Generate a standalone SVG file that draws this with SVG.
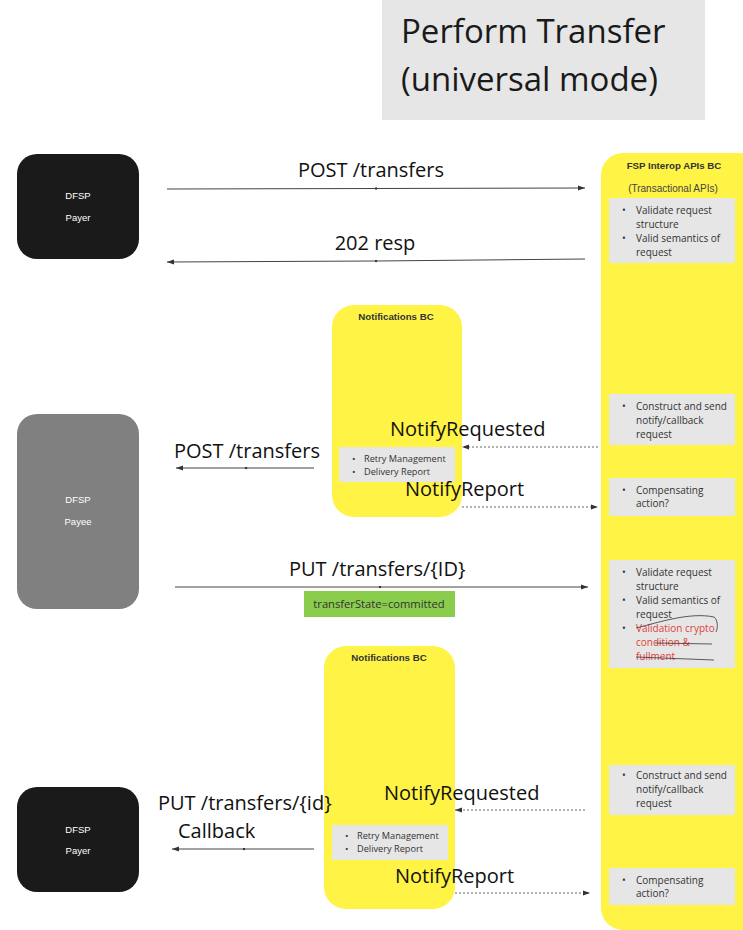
<svg xmlns="http://www.w3.org/2000/svg" width="743" height="930" viewBox="0 0 743 930">
<defs>
<marker id="ah" markerWidth="8" markerHeight="6" refX="7" refY="3" orient="auto" markerUnits="userSpaceOnUse"><path d="M0,0.5 L7,3 L0,5.5 Z" fill="#333"/></marker>
<marker id="md" markerWidth="3" markerHeight="3" refX="1.5" refY="1.5" markerUnits="userSpaceOnUse"><circle cx="1.5" cy="1.5" r="1.2" fill="#333"/></marker>
<style>
.lbl{font-family:"Open Sans","Noto Sans",sans-serif;font-size:20px;fill:#111}
.ttl{font-family:"Open Sans","Noto Sans",sans-serif;font-size:33px;fill:#1a1a1a}
.nt{font-family:"Liberation Sans",Arial,sans-serif;font-size:9.5px;fill:#fff;text-anchor:middle}
.bt{font-family:"Liberation Sans",Arial,sans-serif;font-size:9.7px;font-weight:bold;fill:#333;text-anchor:middle}
.st{font-family:"Liberation Sans",Arial,sans-serif;font-size:10px;fill:#444;text-anchor:middle}
.bl{font-family:"Open Sans","Noto Sans",sans-serif;font-size:10px;fill:#333}
.sm{font-family:"Open Sans","Noto Sans",sans-serif;font-size:9.2px;fill:#333}
.red{fill:#e0413a}
.yel{fill:#fff345}
.gr{fill:#e6e6e6}
.ln{stroke:#444;stroke-width:1;fill:none;marker-end:url(#ah);marker-mid:url(#md)}
.dl{stroke:#666;stroke-width:1;fill:none;stroke-dasharray:2,2;marker-end:url(#ah)}
</style>
</defs>
<rect width="743" height="930" fill="#fff"/>
<g id="title">
<rect x="382" y="0" width="323" height="120" class="gr"/>
<text x="401" y="43" class="ttl">Perform Transfer</text>
<text x="401" y="91" class="ttl">(universal mode)</text>
</g>
<g id="fsp">
<rect x="601" y="153" width="162" height="777" rx="22" class="yel"/>
<text x="674" y="169" class="bt">FSP Interop APIs BC</text>
<text x="673" y="192" class="st">(Transactional APIs)</text>
<rect x="609" y="198" width="126" height="65" class="gr"/>
<g class="bl">
<text x="622" y="214">•</text><text x="636" y="214">Validate request</text>
<text x="636" y="228">structure</text>
<text x="622" y="242">•</text><text x="636" y="242">Valid semantics of</text>
<text x="636" y="256">request</text>
</g>
<rect x="609" y="394" width="126" height="51" class="gr"/>
<g class="bl">
<text x="622" y="410">•</text><text x="636" y="410">Construct and send</text>
<text x="636" y="424">notify/callback</text>
<text x="636" y="438">request</text>
</g>
<rect x="609" y="478" width="126" height="38" class="gr"/>
<g class="bl">
<text x="622" y="494">•</text><text x="636" y="494">Compensating</text>
<text x="636" y="507">action?</text>
</g>
<rect x="609" y="560" width="126" height="108" class="gr"/>
<g class="bl">
<text x="622" y="576">•</text><text x="636" y="576">Validate request</text>
<text x="636" y="590">structure</text>
<text x="622" y="604">•</text><text x="636" y="604">Valid semantics of</text>
<text x="636" y="618">request</text>
<text x="622" y="632">•</text><text x="636" y="632" class="red">Validation crypto</text>
<text x="636" y="646" class="red">condition &amp;</text>
<text x="636" y="660" class="red">fullment</text>
</g>
<path d="M636,628 C660,622 690,612 714,617 C718,620 718,628 716,632" stroke="#333" stroke-width="0.8" fill="none"/>
<path d="M655,643 L712,644" stroke="#333" stroke-width="0.8" fill="none"/>
<path d="M636,657 L714,660" stroke="#333" stroke-width="0.8" fill="none"/>
<rect x="609" y="765" width="126" height="50" class="gr"/>
<g class="bl">
<text x="622" y="779">•</text><text x="636" y="779">Construct and send</text>
<text x="636" y="793">notify/callback</text>
<text x="636" y="807">request</text>
</g>
<rect x="609" y="868" width="126" height="37" class="gr"/>
<g class="bl">
<text x="622" y="884">•</text><text x="636" y="884">Compensating</text>
<text x="636" y="897">action?</text>
</g>
</g>
<g id="payer1">
<rect x="17" y="154" width="122" height="105" rx="20" fill="#1a1a1a"/>
<text x="78" y="199" class="nt">DFSP</text>
<text x="78" y="221" class="nt">Payer</text>
</g>
<g id="payee">
<rect x="17" y="414" width="122" height="195" rx="20" fill="#808080"/>
<text x="78" y="503" class="nt">DFSP</text>
<text x="78" y="525" class="nt">Payee</text>
</g>
<g id="payer2">
<rect x="17" y="787" width="122" height="105" rx="20" fill="#1a1a1a"/>
<text x="78" y="833" class="nt">DFSP</text>
<text x="78" y="854" class="nt">Payer</text>
</g>
<g id="notif1">
<rect x="332" y="305" width="130" height="212" rx="22" class="yel"/>
<text x="396" y="320" class="bt">Notifications BC</text>
<rect x="339" y="447" width="116" height="35" class="gr"/>
<text x="352" y="462" class="sm">•</text><text x="364" y="462" class="sm">Retry Management</text>
<text x="352" y="475" class="sm">•</text><text x="364" y="475" class="sm">Delivery Report</text>
</g>
<g id="notif2">
<rect x="324" y="646" width="131" height="263" rx="22" class="yel"/>
<text x="389" y="661" class="bt">Notifications BC</text>
<rect x="332" y="825" width="116" height="35" class="gr"/>
<text x="345" y="839" class="sm">•</text><text x="357" y="839" class="sm">Retry Management</text>
<text x="345" y="852" class="sm">•</text><text x="357" y="852" class="sm">Delivery Report</text>
</g>
<g id="green">
<rect x="304" y="591" width="151" height="26" fill="#8acc4c"/>
<text x="379" y="608" font-family="'Open Sans','Noto Sans',sans-serif" font-size="11.2px" fill="#333" text-anchor="middle">transferState=committed</text>
</g>
<g id="connectors">
<path d="M167,189 L376,188.5 L585,188" class="ln"/>
<path d="M585,259 L376,261 L167,262" class="ln"/>
<path d="M314,468 L246,468 L176,468" class="ln"/>
<path d="M175,587 L380,587 L588,587" class="ln"/>
<path d="M314,849 L244,849 L172,849" class="ln"/>
<path d="M598,447 L462,447" class="dl"/>
<path d="M462,507 L598,507" class="dl"/>
<path d="M585,810 L455,810" class="dl"/>
<path d="M455,893 L590,893" class="dl"/>
</g>
<g id="labels">
<text x="371" y="177" class="lbl" text-anchor="middle">POST /transfers</text>
<text x="375" y="250" class="lbl" text-anchor="middle">202 resp</text>
<text x="390" y="436" class="lbl">NotifyRequested</text>
<text x="405" y="496" class="lbl">NotifyReport</text>
<text x="174" y="458" class="lbl">POST /transfers</text>
<text x="289" y="576" class="lbl">PUT /transfers/{ID}</text>
<text x="384" y="800" class="lbl">NotifyRequested</text>
<text x="395" y="883" class="lbl">NotifyReport</text>
<text x="158" y="810" class="lbl">PUT /transfers/{id}</text>
<text x="178" y="838" class="lbl">Callback</text>
</g>
</svg>
